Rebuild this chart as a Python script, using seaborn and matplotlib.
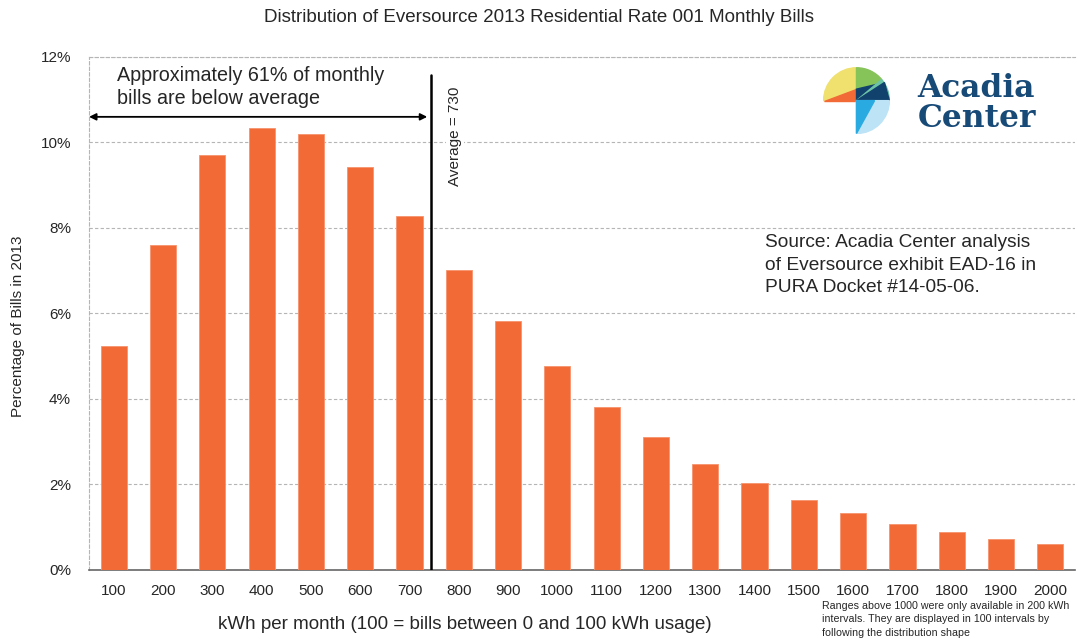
import pandas as pd
import seaborn as sns
import matplotlib.pyplot as plt
import numpy as np
from matplotlib.patches import Wedge, Polygon
from matplotlib.ticker import FuncFormatter

# data
kwh = ["100", "200", "300", "400", "500", "600", "700", "800", "900", "1000",
       "1100", "1200", "1300", "1400", "1500", "1600", "1700", "1800", "1900", "2000"]
pct_bills = [5.23, 7.60, 9.71, 10.34, 10.20, 9.43, 8.28, 7.02, 5.82, 4.77,
             3.82, 3.12, 2.48, 2.03, 1.63, 1.33, 1.08, 0.89, 0.73, 0.61]
y_ticks = [0, 2, 4, 6, 8, 10, 12]
avg_pos = 6.44  # average = 730 kWh, position between the 700 and 800 bars

df = pd.DataFrame({"kwh": kwh, "pct": pct_bills})

sns.set_style("white")
plt.rcParams["font.family"] = ["Liberation Sans", "DejaVu Sans"]

fig = plt.figure(figsize=(10.78, 6.39), dpi=100)
ax = fig.add_axes([0.0826, 0.108, 0.9146, 0.8028])

sns.barplot(data=df, x="kwh", y="pct", color="#F26A36", saturation=1,
            width=0.53, edgecolor="#F6936C", linewidth=0.6, ax=ax, zorder=3)

ax.set_ylim(0, 12)
ax.set_xlim(-0.5, len(kwh) - 0.5)
ax.set_yticks(y_ticks)
ax.yaxis.set_major_formatter(FuncFormatter(lambda v, p: f"{v:.0f}%"))
ax.grid(axis="y", color="#B5B5B5", linestyle=(0, (3, 2)), linewidth=0.8, zorder=0)
ax.tick_params(axis="both", length=0, labelsize=11, pad=10)
ax.tick_params(axis="y", pad=13)

for side in ["left", "top"]:
    ax.spines[side].set_linestyle((0, (3, 2)))
    ax.spines[side].set_color("#B5B5B5")
    ax.spines[side].set_linewidth(0.8)
ax.spines["right"].set_visible(False)
ax.spines["bottom"].set_color("#666666")
ax.spines["bottom"].set_linewidth(1.2)

ax.set_ylabel("")
ax.set_xlabel("")
fig.text(0.017, 0.49, "Percentage of Bills in 2013", rotation=90, fontsize=11,
         ha="center", va="center")

# average line and annotations
ax.plot([avg_pos, avg_pos], [0, 11.57], color="black", linewidth=1.8, zorder=4)
ax.text(6.92, 11.3, "Average = 730", rotation=90, ha="center", va="top",
        fontsize=11, zorder=5,
        bbox=dict(facecolor="white", edgecolor="none", pad=1.5))
ax.annotate("", xy=(-0.5, 10.6), xytext=(avg_pos - 0.08, 10.6),
            arrowprops=dict(arrowstyle="<|-|>", color="black", lw=1.3,
                            mutation_scale=10, shrinkA=0, shrinkB=0))
ax.text(0.07, 11.8, "Approximately 61% of monthly\nbills are below average",
        ha="left", va="top", fontsize=14.2, linespacing=1.3)
ax.text(13.21, 7.85, "Source: Acadia Center analysis\nof Eversource exhibit EAD-16 in\nPURA Docket #14-05-06.",
        ha="left", va="top", fontsize=13.8, linespacing=1.4)

fig.text(0.5, 0.972, "Distribution of Eversource 2013 Residential Rate 001 Monthly Bills",
         ha="center", va="center", fontsize=13.5)
fig.text(0.4315, 0.023, "kWh per month (100 = bills between 0 and 100 kWh usage)",
         ha="center", va="center", fontsize=13.5)
fig.text(0.7625, 0.031, "Ranges above 1000 were only available in 200 kWh\n"
         "intervals. They are displayed in 100 intervals by\nfollowing the distribution shape",
         ha="left", va="center", fontsize=7.7, linespacing=1.45)

# logo
lax = fig.add_axes([0.7545, 0.79, 0.08, 0.105])
lax.set_xlim(-1.02, 1.02)
lax.set_ylim(-1.02, 1.02)
lax.set_aspect("equal")
lax.axis("off")
lax.add_patch(Wedge((0, 0), 1.0, 90, 180, color="#F0E06E"))
lax.add_patch(Polygon([(-1.0, 0), (0, 0), (0, 0.35)], color="#F26A36"))
lax.add_patch(Wedge((0, 0), 1.0, 40, 90, color="#86C45A"))
lax.add_patch(Polygon([(0, 0), (0, 0.35), (0.85, 0.55)], color="#11426E"))
lax.add_patch(Wedge((0, 0), 1.0, 0, 40, color="#6DC5A6"))
lax.add_patch(Polygon([(0, 0), (0.85, 0.55), (1.0, 0)], color="#11426E"))
lax.add_patch(Wedge((0, 0), 1.0, 270, 360, color="#BDE3F7"))
lax.add_patch(Polygon([(0, 0), (0, -1.0), (0.55, 0)], color="#29ABE2"))
fig.text(0.851, 0.861, "Acadia", fontsize=22.5, fontweight="bold", color="#184A78",
         family=["DejaVu Serif"], va="center", ha="left")
fig.text(0.851, 0.814, "Center", fontsize=22.5, fontweight="bold", color="#184A78",
         family=["DejaVu Serif"], va="center", ha="left")

fig.savefig("out.png", dpi=100)
